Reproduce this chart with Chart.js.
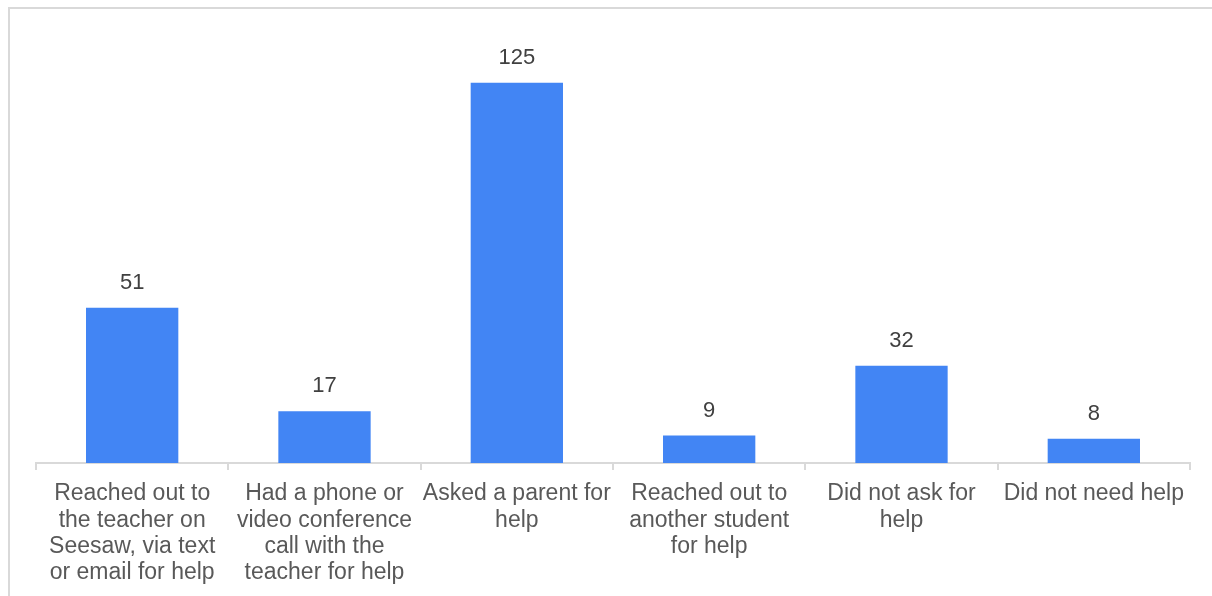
<!DOCTYPE html>
<html>
<head>
<meta charset="utf-8">
<script src="https://cdn.jsdelivr.net/npm/chart.js@4/dist/chart.umd.min.js"></script>
<style>
  html, body { margin: 0; padding: 0; background: #fff; }
  #wrap { position: relative; width: 1212px; height: 596px; overflow: hidden; }
  #frame { position: absolute; left: 8px; top: 7px; width: 1300px; height: 700px;
           border-left: 2px solid #d9d9d9; border-top: 2px solid #d9d9d9; }
  canvas { position: absolute; left: 0; top: 0; }
</style>
</head>
<body>
<div id="wrap">
  <div id="frame"></div>
  <canvas id="c" width="1212" height="596"></canvas>
</div>
<script>
const categories = [
  ["Reached out to", "the teacher on", "Seesaw, via text", "or email for help"],
  ["Had a phone or", "video conference", "call with the", "teacher for help"],
  ["Asked a parent for", "help"],
  ["Reached out to", "another student", "for help"],
  ["Did not ask for", "help"],
  ["Did not need help"]
];
const counts = [51, 17, 125, 9, 32, 8];

const FONT = "'Liberation Sans', Arial, sans-serif";

// Writes each bar's count above it
const valueLabels = {
  id: 'valueLabels',
  afterDatasetsDraw(chart) {
    const ctx = chart.ctx;
    const meta = chart.getDatasetMeta(0);
    ctx.save();
    ctx.font = `22px ${FONT}`;
    ctx.fillStyle = '#404040';
    ctx.textAlign = 'center';
    ctx.textBaseline = 'middle';
    meta.data.forEach((bar, i) => {
      ctx.fillText(String(counts[i]), bar.x, bar.y - 25);
    });
    ctx.restore();
  }
};

new Chart(document.getElementById('c'), {
  type: 'bar',
  data: {
    labels: categories,
    datasets: [{
      data: counts,
      backgroundColor: '#4285f4',
      borderWidth: 0,
      categoryPercentage: 1,
      barPercentage: 0.48
    }]
  },
  options: {
    responsive: false,
    animation: false,
    layout: { padding: { left: 36, right: 22, top: 37, bottom: 0 } },
    plugins: { legend: { display: false }, tooltip: { enabled: false } },
    scales: {
      y: { display: false, min: 0, max: 140 },
      x: {
        afterFit(scale) { scale.height = 133; },
        border: { display: true, color: '#d9d9d9', width: 2 },
        grid: { display: true, drawOnChartArea: false, drawTicks: true, tickLength: 7, color: '#d9d9d9', lineWidth: 2, offset: true },
        ticks: {
          color: '#595959',
          padding: 11,
          maxRotation: 0,
          autoSkip: false,
          font: { family: FONT, size: 23, lineHeight: 1.14 }
        }
      }
    }
  },
  plugins: [valueLabels]
});
</script>
</body>
</html>
